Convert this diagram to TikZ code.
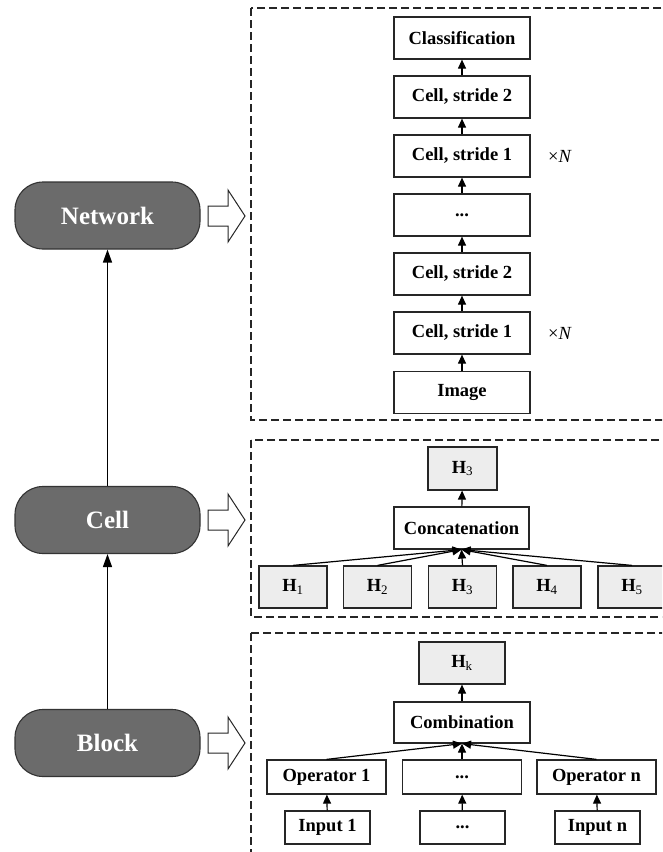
\documentclass[tikz,border=0pt]{standalone}
\usepackage{fontspec}
\setmainfont{Liberation Serif}
\usetikzlibrary{arrows.meta}
\begin{document}
\begin{tikzpicture}[x=1pt,y=-1pt,
  box/.style={draw=black!85,line width=1.2pt,fill=white,inner sep=0pt,
    font=\fontsize{18.5}{20}\selectfont\bfseries},
  gbox/.style={box,fill=black!7},
  pill/.style={draw=black!80,line width=1.1pt,fill=black!58,rounded corners=28pt,
    minimum width=185pt,minimum height=67pt,text=white,
    font=\fontsize{25}{27}\selectfont\bfseries},
  panel/.style={draw=black!85,line width=1.2pt,dash pattern=on 8pt off 4pt},
  flow/.style={draw=black,line width=1.2pt,-{Triangle[length=9pt,width=8pt]}},
  bigflow/.style={draw=black,line width=1.3pt,-{Triangle[length=13pt,width=9pt]}},
  hollow/.style={draw=black!85,line width=1pt,fill=white},
  rep/.style={font=\fontsize{18.5}{20}\selectfont}
]
\useasboundingbox (0,0) rectangle (662,852);
\clip (0,0) rectangle (662,852);
\fill[white] (0,0) rectangle (662,852);

% dashed panels
\draw[panel] (251,8) rectangle (680,420);
\draw[panel] (251,440) rectangle (680,617);
\draw[panel] (251,633) rectangle (680,880);

% left column: hierarchy levels
\node[pill] (net) at (107.5,215.5) {Network};
\node[pill] (cell) at (107.5,520) {Cell};
\node[pill] (blk) at (107.5,743) {Block};
\draw[bigflow] (blk) -- (cell);
\draw[bigflow] (cell) -- (net);

% hollow arrows pointing into the panels
\foreach \yc in {216,520,743}{
  \draw[hollow] (208,\yc-10) -- (228,\yc-10) -- (228,\yc-26) -- (245,\yc)
    -- (228,\yc+26) -- (228,\yc+10) -- (208,\yc+10) -- cycle;
}

% network panel
\begin{scope}[every node/.append style={box,minimum width=136pt,minimum height=42pt}]
\node (cls) at (462,38) {Classification};
\node (c2a) at (462,97) {Cell, stride 2};
\node (c1a) at (462,156) {Cell, stride 1};
\node (dots) at (462,215) {...};
\node (c2b) at (462,274) {Cell, stride 2};
\node (c1b) at (462,333) {Cell, stride 1};
\node (img) at (462,392.5) {Image};
\end{scope}
\draw[flow] (img) -- (c1b);
\draw[flow] (c1b) -- (c2b);
\draw[flow] (c2b) -- (dots);
\draw[flow] (dots) -- (c1a);
\draw[flow] (c1a) -- (c2a);
\draw[flow] (c2a) -- (cls);
\node[rep] (na) at (560,156) {×\textit{N}};
\node[rep] (nb) at (560,333) {×\textit{N}};

% cell panel
\newcommand{\hsub}[1]{H\textsubscript{\normalfont\fontsize{13}{14}\selectfont #1}}
\node[gbox,minimum width=69pt,minimum height=43pt] (hout) at (462.5,468.5) {\hsub{3}};
\node[box,minimum width=135pt,minimum height=42pt] (cat) at (461.5,528) {Concatenation};
\draw[flow] (cat) -- (hout);
\foreach \i/\xc in {1/293,2/377.5,3/462.5,4/547,5/632}{
  \node[gbox,minimum width=68pt,minimum height=42pt] (h\i) at (\xc,587) {\hsub{\i}};
  \draw[flow] (h\i.north) -- (cat.south);
}

% block panel
\node[gbox,minimum width=86pt,minimum height=42pt] (hk) at (462,663) {\hsub{k}};
\node[box,minimum width=136pt,minimum height=41pt] (comb) at (462,722.5) {Combination};
\draw[flow] (comb) -- (hk);
\begin{scope}[every node/.append style={box,minimum width=119pt,minimum height=34pt}]
\node (op1) at (326.5,777) {Operator 1};
\node (opd) at (462,777) {...};
\node (opn) at (596.5,777) {Operator n};
\end{scope}
\begin{scope}[every node/.append style={box,minimum width=85pt,minimum height=33pt}]
\node (in1) at (327.5,827.5) {Input 1};
\node (ind) at (462.5,827.5) {...};
\node (inn) at (597.5,827.5) {Input n};
\end{scope}
\foreach \o/\n in {op1/in1,opd/ind,opn/inn}{
  \draw[flow] (\n) -- (\o);
  \draw[flow] (\o.north) -- (comb.south);
}
\end{tikzpicture}
\end{document}
